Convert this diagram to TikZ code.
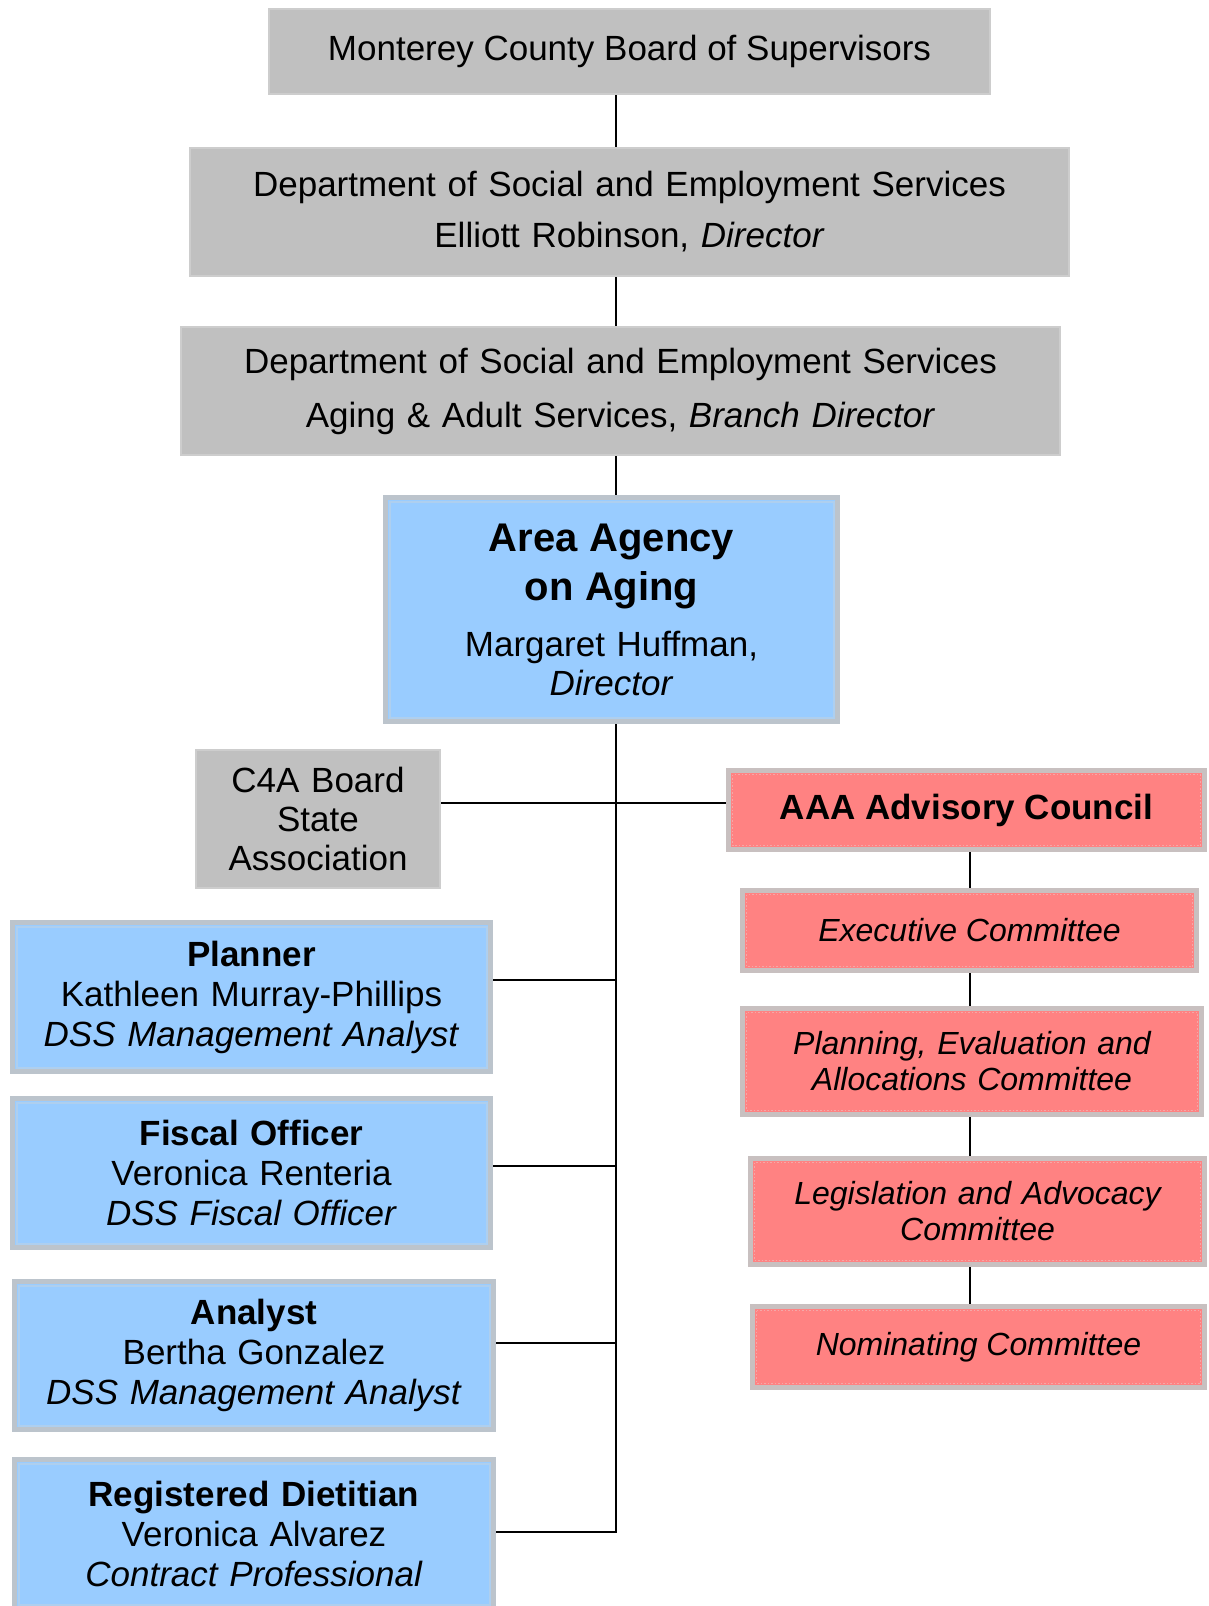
\documentclass[tikz,border=0pt]{standalone}
\usepackage{fontspec}
\setmainfont{Liberation Sans}
\usetikzlibrary{positioning,calc}
\definecolor{boxgray}{HTML}{C0C0C0}
\definecolor{edgegray}{HTML}{CDCDCD}
\definecolor{boxblue}{HTML}{99CCFF}
\definecolor{bluerim}{HTML}{BCC4CC}
\definecolor{blueinner}{HTML}{AECFEF}
\definecolor{boxred}{HTML}{FF8282}
\definecolor{redrim}{HTML}{C8C0C0}
\definecolor{redinner}{HTML}{F4A8A8}
\tikzset{
  base/.style={inner sep=0pt, align=center, font=\fontsize{35}{40}\selectfont},
  gbox/.style={base, fill=boxgray, draw=edgegray, line width=2pt},
  bbox/.style={base, fill=boxblue, draw=bluerim, line width=5pt,
    path picture={\draw[blueinner, line width=2pt]
      ([xshift=4pt,yshift=-4pt]path picture bounding box.north west) rectangle
      ([xshift=-4pt,yshift=4pt]path picture bounding box.south east);}},
  rbox/.style={base, fill=boxred, draw=redrim, line width=5pt, font=\fontsize{32}{36}\selectfont\itshape,
    path picture={\draw[redinner, line width=1.5pt, dotted]
      ([xshift=4pt,yshift=-4pt]path picture bounding box.north west) rectangle
      ([xshift=-4pt,yshift=4pt]path picture bounding box.south east);}},
  link/.style={draw=black, line width=2pt}
}
\begin{document}
\begin{tikzpicture}[x=1pt,y=-1pt]
\useasboundingbox (0,0) rectangle (1208,1606);
\coordinate (spine) at (616,0);
\coordinate (rspine) at (970,0);

\node[gbox, minimum width=721pt, minimum height=85pt] (board) at (629.5,51.5)
  {Monterey County Board of Supervisors};
\node[gbox, minimum width=879pt, minimum height=128pt, text width=860pt,
      font=\fontsize{35}{51}\selectfont] (dses) at (629.5,212)
  {Department of Social and Employment Services\\Elliott Robinson, \textit{Director}};
\node[gbox, minimum width=879pt, minimum height=128pt, text width=860pt,
      font=\fontsize{35}{54}\selectfont] (aging) at (620.5,391)
  {Department of Social and Employment Services\\Aging \& Adult Services, \textit{Branch Director}};
\node[bbox, minimum width=452pt, minimum height=224pt, text width=430pt] (aaa) at (611.5,609.5)
  {{\fontsize{40}{49}\selectfont\bfseries Area Agency\\on Aging\par}\vspace{17pt}%
   {\fontsize{35}{39}\selectfont Margaret Huffman,\\\textit{Director}\par}};

\node[gbox, minimum width=244pt, minimum height=138pt, text width=230pt,
      font=\fontsize{35}{39}\selectfont] (c4a) at (318,819)
  {C4A Board\\State\\Association};

\node[rbox, minimum width=476pt, minimum height=79pt, font=\fontsize{35}{40}\selectfont\bfseries] (council) at (966.5,810)
  {AAA Advisory Council};
\node[rbox, minimum width=454pt, minimum height=80pt] (exec) at (969.5,930.5)
  {Executive Committee};
\node[rbox, minimum width=459pt, minimum height=106pt, text width=440pt] (pea) at (972,1061.5)
  {Planning, Evaluation and\\Allocations Committee};
\node[rbox, minimum width=454pt, minimum height=106pt, text width=440pt] (leg) at (977.5,1211.5)
  {Legislation and Advocacy\\Committee};
\node[rbox, minimum width=452pt, minimum height=81pt] (nom) at (978.5,1347)
  {Nominating Committee};

\node[bbox, minimum width=478pt, minimum height=149pt, text width=460pt] (planner) at (251.5,997)
  {\textbf{Planner}\\Kathleen Murray-Phillips\\\textit{DSS Management Analyst}};
\node[bbox, minimum width=478pt, minimum height=149pt, text width=460pt] (fiscal) at (251.5,1173)
  {\textbf{Fiscal Officer}\\Veronica Renteria\\\textit{DSS Fiscal Officer}};
\node[bbox, minimum width=479pt, minimum height=148pt, text width=460pt] (analyst) at (254,1355.5)
  {\textbf{Analyst}\\Bertha Gonzalez\\\textit{DSS Management Analyst}};
\node[bbox, minimum width=479pt, minimum height=149pt, text width=460pt] (diet) at (254,1534)
  {\textbf{Registered Dietitian}\\Veronica Alvarez\\\textit{Contract Professional}};

% main trunk
\draw[link] (board.south -| spine) -- (dses.north -| spine);
\draw[link] (dses.south -| spine) -- (aging.north -| spine);
\draw[link] (aging.south -| spine) -- (aaa.north -| spine);
\coordinate (trunkend) at ([yshift=2pt]diet.east -| spine);
\draw[link] (aaa.south -| spine) -- ([yshift=-1pt]trunkend);

% side links
\draw[link] ([yshift=16pt]c4a.east) -- ([yshift=16pt]c4a.east -| council.west);
\draw[link] ([yshift=17pt]planner.east) -- ([yshift=17pt]planner.east -| spine);
\draw[link] ([yshift=7pt]fiscal.east) -- ([yshift=7pt]fiscal.east -| spine);
\draw[link] ([yshift=13pt]analyst.east) -- ([yshift=13pt]analyst.east -| spine);
\draw[link] ([yshift=2pt]diet.east) -- (trunkend);

% committee chain
\draw[link] (council.south -| rspine) -- (exec.north -| rspine);
\draw[link] (exec.south -| rspine) -- (pea.north -| rspine);
\draw[link] (pea.south -| rspine) -- (leg.north -| rspine);
\draw[link] (leg.south -| rspine) -- (nom.north -| rspine);
\end{tikzpicture}
\end{document}
